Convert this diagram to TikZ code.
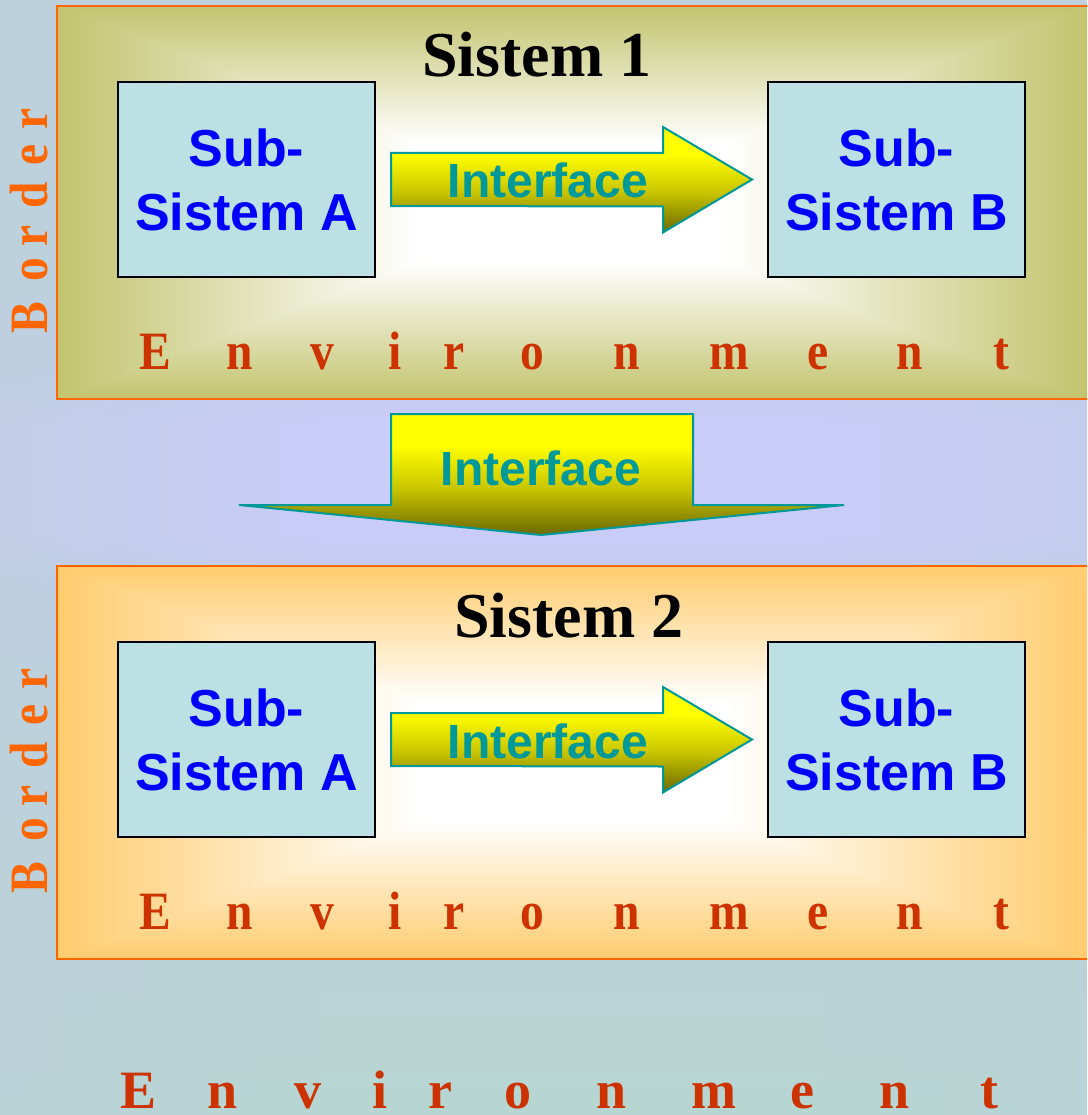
\documentclass[tikz,border=0pt]{standalone}
\usepackage{fontspec}
\setmainfont{Liberation Serif}
\newfontfamily\sansb{Liberation Sans}
\usetikzlibrary{calc,fadings}
\definecolor{envc}{HTML}{CC3300}
\definecolor{bordc}{HTML}{FF6600}
\definecolor{olivee}{HTML}{C2C46E}
\definecolor{peach}{HTML}{FFCC6E}
\definecolor{subfill}{HTML}{BCE0E4}
\definecolor{teal2}{HTML}{009999}
\definecolor{adark}{HTML}{6B6800}
\definecolor{amid}{HTML}{C8C400}
\definecolor{bgtop}{HTML}{BDD1DC}
\definecolor{bgtopb}{HTML}{C3CDEC}
\definecolor{bgmid}{HTML}{CACCF8}
\definecolor{bgbotb}{HTML}{BDD1DC}
\definecolor{bgbot}{HTML}{B7D6D2}
\pgfdeclareverticalshading{arrowsh}{100bp}{color(0bp)=(adark); color(25bp)=(adark); color(44bp)=(amid); color(62bp)=(yellow); color(100bp)=(yellow)}
\pgfdeclareverticalshading{bgsh}{100bp}{color(0bp)=(bgbot); color(25bp)=(bgbot); color(43bp)=(bgbotb); color(49bp)=(bgtopb); color(51bp)=(bgmid); color(56bp)=(bgmid); color(58bp)=(bgtopb); color(64bp)=(bgtop); color(75bp)=(bgtop); color(100bp)=(bgtop)}
% rectangular "from centre" glow: horizontal part and vertical part
\pgfdeclarehorizontalshading{hglowone}{100bp}{color(0bp)=(olivee); color(25bp)=(olivee); color(42.5bp)=(white); color(57.5bp)=(white); color(75bp)=(olivee); color(100bp)=(olivee)}
\pgfdeclareverticalshading{vglowone}{100bp}{color(0bp)=(olivee); color(25bp)=(olivee); color(42.5bp)=(white); color(57.5bp)=(white); color(75bp)=(olivee); color(100bp)=(olivee)}
\pgfdeclarehorizontalshading{hglowtwo}{100bp}{color(0bp)=(peach); color(25bp)=(peach); color(42.5bp)=(white); color(57.5bp)=(white); color(75bp)=(peach); color(100bp)=(peach)}
\pgfdeclareverticalshading{vglowtwo}{100bp}{color(0bp)=(peach); color(25bp)=(peach); color(42.5bp)=(white); color(57.5bp)=(white); color(75bp)=(peach); color(100bp)=(peach)}
\tikzfading[name=fadeeast, left color=transparent!0, right color=transparent!100]
\tikzfading[name=fadewest, left color=transparent!100, right color=transparent!0]
\tikzset{
  subbox/.style={draw=black, line width=2, fill=subfill, minimum width=257, minimum height=195,
    inner sep=0, align=center, text=blue, font=\sansb\bfseries\fontsize{52}{64}\selectfont},
  iftext/.style={font=\sansb\bfseries\fontsize{48}{48}\selectfont, text=teal2, anchor=base, inner sep=0},
  systitle/.style={font=\bfseries\fontsize{64}{64}\selectfont, anchor=base, inner sep=0},
  envl/.style={font=\bfseries\fontsize{54}{54}\selectfont, text=envc, anchor=base, inner sep=0},
  bordl/.style={font=\bfseries\fontsize{54}{54}\selectfont, text=bordc, anchor=base, inner sep=0, rotate=90},
  arrowshape/.style={draw=teal2, line width=2, shading=arrowsh},
  sysframe/.style={draw=bordc, line width=2},
}
% #1 y offset, #2 glow id (one/two), #3 title, #4 title x, #5 id
\newcommand\sysblock[5]{%
  \begin{scope}[shift={(0,#1)}]
    \path[shading=hglow#2] (57,6) rectangle (1087,399);
    \begin{scope}
      \clip (57,6) -- (1087,6) -- (572,202.5) -- cycle (57,399) -- (1087,399) -- (572,202.5) -- cycle;
      \path[shading=vglow#2] (57,6) rectangle (1087,399);
    \end{scope}
    \draw[sysframe] (1097,6) -- (57,6) -- (57,399) -- (1097,399);
    \node[systitle] (title#5) at (#4,77) {#3};
    \node[subbox] (A#5) at (246.5,179.5) {Sub-\\Sistem A};
    \node[subbox] (B#5) at (896.5,179.5) {Sub-\\Sistem B};
    \path[arrowshape] ($(A#5.east)+(15,-26.5)$) -- ++(272,0) -- ++(0,-26) -- ($(B#5.west)+(-15,0)$)
      -- ($(A#5.east)+(287,53)$) -- ++(0,-26) -- ($(A#5.east)+(15,26.5)$) -- cycle;
    \node[iftext] (IF#5) at (548,198) {Interface};
    \foreach \ch/\xx [count=\k] in {E/155,n/240,v/322,i/395,r/454,o/532,n/627,m/729,e/818,n/910,t/1001}
      \node[envl] (env#5-\k) at (\xx,369) {\scalebox{0.88}[1]{\ch}};
    \foreach \ch/\yy [count=\k] in {B/317.5,o/270,r/236,d/195,e/155,r/119}
      \node[bordl] (bord#5-\k) at (47,\yy) {\scalebox{0.88}[1]{\ch}};
  \end{scope}}
\begin{document}
\begin{tikzpicture}[x=1pt,y=-1pt]
  \useasboundingbox (0,0) rectangle (1087,1115);
  \clip (0,0) rectangle (1087,1115);
  \path[shading=bgsh] (0,0) rectangle (1087,1115);
  \fill[bgtop, path fading=fadeeast, fill opacity=0.6] (0,0) rectangle (320,1115);
  \fill[bgtop, path fading=fadewest, fill opacity=0.35] (820,0) rectangle (1087,1115);
  \sysblock{0}{one}{Sistem 1}{537}{1}
  \sysblock{560}{two}{Sistem 2}{569}{2}
  % interface arrow between the systems
  \coordinate (dtip) at (541,535);
  \path[arrowshape] (391,414) -- (693,414) -- (693,505) -- (844,505) -- (dtip) -- (239,505) -- (391,505) -- cycle;
  \node[iftext] (IFd) at (541,485) {Interface};
  % outer environment
  \foreach \ch/\xx [count=\k] in {E/139,n/223,v/308,i/380,r/440,o/518,n/612,m/714,e/802,n/895,t/989}
    \node[envl] (envo-\k) at (\xx,1108) {\ch};
\end{tikzpicture}
\end{document}
